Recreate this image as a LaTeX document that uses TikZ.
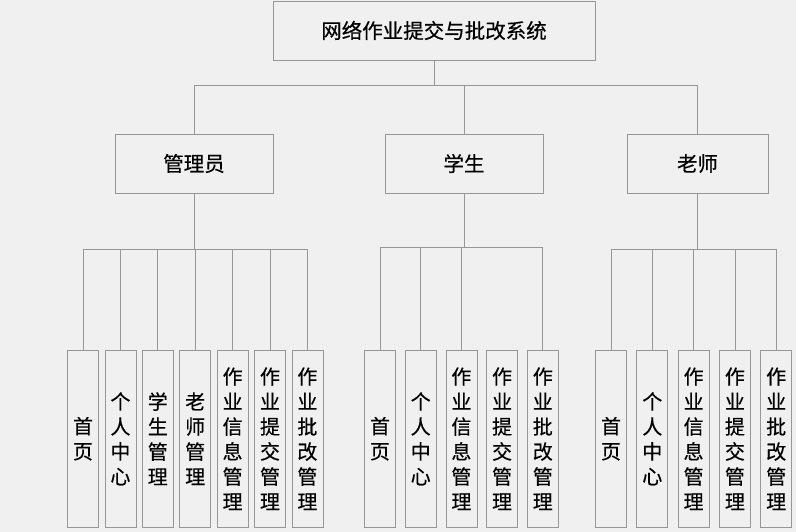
\documentclass[tikz,border=0pt]{standalone}
\usepackage{fontspec}
\setmainfont{Noto Sans CJK SC}[FakeBold=0.4]
\usetikzlibrary{positioning}
\definecolor{boxline}{RGB}{150,150,150}
\definecolor{paper}{RGB}{240,240,240}

\begin{document}
\begin{tikzpicture}[x=1pt,y=-1pt,
    base/.style={draw=boxline,line width=0.8pt,inner sep=0pt,outer sep=0pt,font=\fontsize{20.5}{25}\selectfont},
    root/.style={base,minimum width=322pt,minimum height=59pt},
    role/.style={base,minimum width=158pt,minimum height=59pt},
    leaf/.style={base,minimum width=31pt,minimum height=177pt,align=center,font=\fontsize{20}{25}\selectfont},
    link/.style={draw=boxline,line width=0.8pt}]
    \fill[paper] (0,0) rectangle (796,532);
    \useasboundingbox (0,0) rectangle (796,532);
    \node[root] (sys) at (434,30.5) {网络作业提交与批改系统};
    \node[role] (admin) at (194,163.5) {管理员};
    \node[role] (stu) at (464,163.5) {学生};
    \node[role,minimum width=141pt] (tea) at (697.5,163.5) {老师};
    \coordinate (bus0) at (434,85);
    \coordinate (bus1) at (194,249);
    \coordinate (bus2) at (464,247.5);
    \coordinate (bus3) at (697.5,249);
    \node[leaf] (a1) at (83,438.75) {首\\页};
    \node[leaf] (a2) [right = 6.4pt of a1] {个\\人\\中\\心};
    \node[leaf] (a3) [right = 6.4pt of a2] {学\\生\\管\\理};
    \node[leaf] (a4) [right = 6.4pt of a3] {老\\师\\管\\理};
    \node[leaf] (a5) [right = 6.4pt of a4] {作\\业\\信\\息\\管\\理};
    \node[leaf] (a6) [right = 6.4pt of a5] {作\\业\\提\\交\\管\\理};
    \node[leaf] (a7) [right = 6.4pt of a6] {作\\业\\批\\改\\管\\理};
    \node[leaf] (s1) at (380,438.75) {首\\页};
    \node[leaf] (s2) [right = 9.7pt of s1] {个\\人\\中\\心};
    \node[leaf] (s3) [right = 9.7pt of s2] {作\\业\\信\\息\\管\\理};
    \node[leaf] (s4) [right = 9.7pt of s3] {作\\业\\提\\交\\管\\理};
    \node[leaf] (s5) [right = 9.7pt of s4] {作\\业\\批\\改\\管\\理};
    \node[leaf] (t1) at (611,438.75) {首\\页};
    \node[leaf] (t2) [right = 10.3pt of t1] {个\\人\\中\\心};
    \node[leaf] (t3) [right = 10.3pt of t2] {作\\业\\信\\息\\管\\理};
    \node[leaf] (t4) [right = 10.3pt of t3] {作\\业\\提\\交\\管\\理};
    \node[leaf] (t5) [right = 10.3pt of t4] {作\\业\\批\\改\\管\\理};
    \draw[link] (sys) -- (bus0) -| (admin);
    \draw[link] (bus0) -| (stu);
    \draw[link] (bus0) -| (tea);
    \draw[link] (admin) -- (bus1) -| (a1);
    \draw[link] (bus1) -| (a2) (bus1) -| (a3) (bus1) -| (a4)
        (bus1) -| (a5) (bus1) -| (a6) (bus1) -| (a7);
    \draw[link] (stu) -- (bus2) -| (s1);
    \draw[link] (bus2) -| (s2) (bus2) -| (s3) (bus2) -| (s5);
    \draw[link] (tea) -- (bus3) -| (t1);
    \draw[link] (bus3) -| (t2) (bus3) -| (t3) (bus3) -| (t4) (bus3) -| (t5);
\end{tikzpicture}
\end{document}
